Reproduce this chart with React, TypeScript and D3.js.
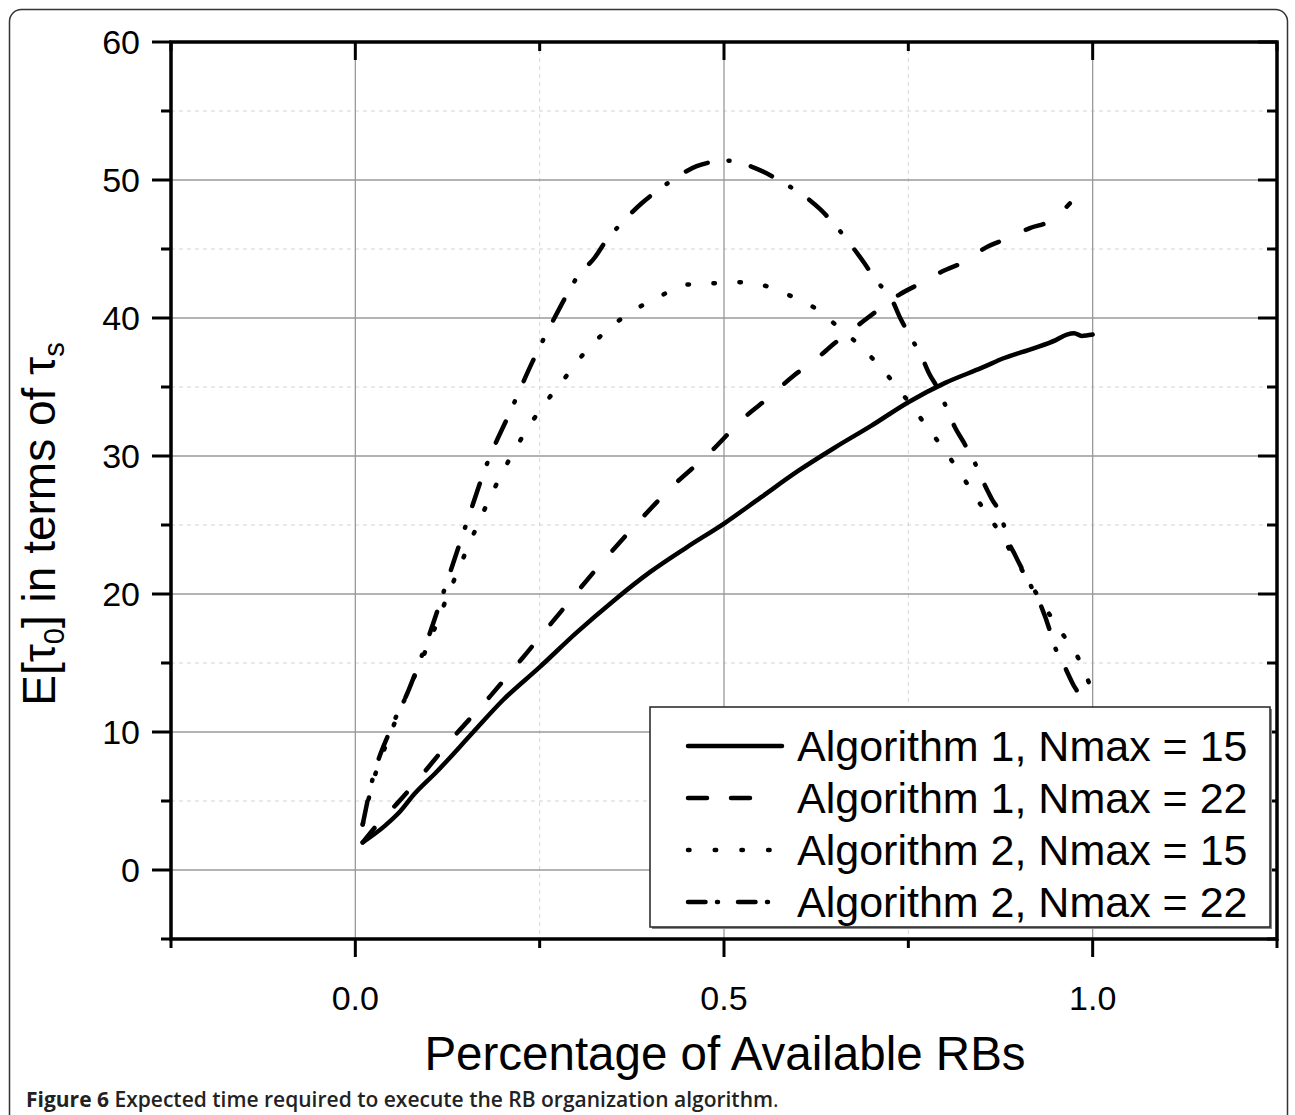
import * as d3 from "d3";

// x = fraction of available RBs, y = E[tau0] in units of tau_s
const alg1N15X = [0.01, 0.04, 0.06, 0.08, 0.11, 0.16, 0.2, 0.25, 0.3, 0.35, 0.4, 0.45, 0.5, 0.55, 0.6, 0.65, 0.7, 0.75, 0.8, 0.85, 0.88, 0.92, 0.95, 0.965, 0.975, 0.985, 1.0];
const alg1N15Y = [2.0, 3.2, 4.2, 5.5, 7.1, 10.0, 12.3, 14.7, 17.2, 19.5, 21.6, 23.4, 25.1, 27.0, 28.9, 30.6, 32.2, 33.9, 35.3, 36.4, 37.1, 37.8, 38.4, 38.8, 38.9, 38.7, 38.8];

const alg1N22X = [0.01, 0.03, 0.058, 0.081, 0.131, 0.183, 0.232, 0.28, 0.33, 0.38, 0.43, 0.48, 0.53, 0.56, 0.594, 0.622, 0.653, 0.68, 0.712, 0.738, 0.77, 0.797, 0.827, 0.855, 0.886, 0.914, 0.945, 0.969];
const alg1N22Y = [2.0, 3.3, 4.9, 6.3, 9.5, 12.6, 15.7, 18.8, 22.0, 25.0, 27.8, 30.2, 32.9, 34.2, 35.8, 36.9, 38.3, 39.4, 40.7, 41.7, 42.6, 43.4, 44.1, 45.1, 45.8, 46.5, 47.1, 48.3];

const alg2N15X = [0.01, 0.022, 0.047, 0.072, 0.1, 0.13, 0.16, 0.19, 0.22, 0.25, 0.282, 0.308, 0.341, 0.376, 0.411, 0.446, 0.481, 0.516, 0.551, 0.586, 0.621, 0.656, 0.69, 0.724, 0.777, 0.802, 0.826, 0.849, 0.872, 0.892, 0.915, 0.938, 0.958, 0.981, 0.997];
const alg2N15Y = [3.3, 6.0, 9.8, 13.0, 16.5, 20.5, 24.3, 27.8, 30.8, 33.3, 35.5, 37.3, 39.1, 40.5, 41.5, 42.4, 42.5, 42.6, 42.4, 41.7, 40.8, 39.3, 37.7, 35.7, 32.0, 30.2, 28.3, 26.4, 24.6, 22.8, 20.8, 18.8, 17.2, 15.3, 13.3];

const alg2N22X = [0.01, 0.022, 0.047, 0.072, 0.1, 0.125, 0.15, 0.179, 0.21, 0.24, 0.27, 0.287, 0.3, 0.325, 0.34, 0.358, 0.388, 0.409, 0.43, 0.463, 0.483, 0.504, 0.536, 0.557, 0.577, 0.61, 0.63, 0.651, 0.675, 0.69, 0.705, 0.728, 0.739, 0.75, 0.768, 0.778, 0.791, 0.804, 0.813, 0.825, 0.842, 0.851, 0.863, 0.877, 0.883, 0.895, 0.919, 0.931, 0.941, 0.947, 0.958, 0.973, 0.983, 0.99];
const alg2N22Y = [3.3, 6.3, 10.1, 13.0, 17.0, 21.0, 25.0, 29.5, 33.2, 36.8, 40.0, 41.7, 42.9, 44.4, 45.6, 46.7, 48.3, 49.2, 50.0, 51.0, 51.3, 51.4, 51.0, 50.5, 49.9, 48.8, 47.9, 46.7, 45.1, 44.0, 42.8, 41.3, 40.0, 38.9, 37.2, 36.0, 34.8, 33.2, 32.1, 31.0, 29.3, 28.2, 26.9, 25.5, 24.2, 22.8, 20.3, 19.0, 17.5, 16.4, 15.2, 13.5, 12.5, 11.3];

const seriesNames = [
  "Algorithm 1, Nmax = 15",
  "Algorithm 1, Nmax = 22",
  "Algorithm 2, Nmax = 15",
  "Algorithm 2, Nmax = 22",
];

const xMajorTicks = [0, 0.5, 1.0];
const xMinorTicks = [-0.25, 0.25, 0.75, 1.25];
const yMajorTicks = [0, 10, 20, 30, 40, 50, 60];
const yMinorTicks = [-5, 5, 15, 25, 35, 45, 55];

const W = 1295;
const H = 1115;
const L = 171, R = 1277, T = 42, B = 939;
const FONT = "Liberation Sans";

export default function App() {
  const x = d3.scaleLinear().domain([-0.25, 1.25]).range([L, R]);
  const y = d3.scaleLinear().domain([-5, 60]).range([B, T]);

  const line = d3
    .line<[number, number]>()
    .x((d) => x(d[0]))
    .y((d) => y(d[1]))
    .curve(d3.curveMonotoneX);

  const zip = (xs: number[], ys: number[]) => xs.map((v, i) => [v, ys[i]] as [number, number]);

  const series = [
    { pts: zip(alg1N15X, alg1N15Y), dash: "none", legDash: "none", legEnd: 782 },
    { pts: zip(alg1N22X, alg1N22Y), dash: "18.5 29.5", legDash: "19 24", legEnd: 752 },
    { pts: zip(alg2N15X, alg2N15Y), dash: "1.5 24.5", legDash: "1.5 25.2", legEnd: 782 },
    { pts: zip(alg2N22X, alg2N22Y), dash: "23.5 21 1 22", legDash: "17.5 11.5 1 20", legEnd: 782 },
  ];

  const legX = 650, legY = 707, legW = 620, legH = 220;
  const rowBase = [761, 813, 865, 917];

  return (
    <svg
      width={W}
      height={H}
      style={{ position: "absolute", left: 0, top: 0, background: "#fff", fontFamily: FONT }}
    >
      <rect x={9.5} y={9.5} width={1278} height={1130} rx={12} fill="#fff" stroke="#333" strokeWidth={1.5} />

      <defs>
        <clipPath id="plotClip">
          <rect x={L} y={T} width={R - L} height={B - T} />
        </clipPath>
      </defs>

      {/* grid */}
      {yMinorTicks.filter((t) => t > -5).map((t) => (
        <line key={"ym" + t} x1={L} x2={R} y1={y(t)} y2={y(t)} stroke="#d4d4d4" strokeWidth={1} strokeDasharray="4 4" />
      ))}
      {xMinorTicks.filter((t) => t > -0.25 && t < 1.25).map((t) => (
        <line key={"xm" + t} x1={x(t)} x2={x(t)} y1={T} y2={B} stroke="#d4d4d4" strokeWidth={1} strokeDasharray="4 4" />
      ))}
      {yMajorTicks.filter((t) => t < 60).map((t) => (
        <line key={"yg" + t} x1={L} x2={R} y1={y(t)} y2={y(t)} stroke="#9a9a9a" strokeWidth={1.3} />
      ))}
      {xMajorTicks.map((t) => (
        <line key={"xg" + t} x1={x(t)} x2={x(t)} y1={T} y2={B} stroke="#9a9a9a" strokeWidth={1.3} />
      ))}

      {/* data */}
      <g clipPath="url(#plotClip)">
        {series.map((s, i) => (
          <path
            key={i}
            d={line(s.pts) || ""}
            fill="none"
            stroke="#000"
            strokeWidth={4.5}
            strokeLinecap="round"
            strokeLinejoin="round"
            strokeDasharray={s.dash}
          />
        ))}
      </g>

      {/* frame */}
      <rect x={L} y={T} width={R - L} height={B - T} fill="none" stroke="#000" strokeWidth={3.5} />

      {/* ticks */}
      {yMajorTicks.map((t) => (
        <g key={"yt" + t}>
          <line x1={L - 19} x2={L} y1={y(t)} y2={y(t)} stroke="#000" strokeWidth={3} />
          <line x1={R - 19} x2={R} y1={y(t)} y2={y(t)} stroke="#000" strokeWidth={3} />
        </g>
      ))}
      {yMinorTicks.map((t) => (
        <g key={"ytm" + t}>
          <line x1={L - 10} x2={L} y1={y(t)} y2={y(t)} stroke="#000" strokeWidth={3} />
          <line x1={R - 10} x2={R} y1={y(t)} y2={y(t)} stroke="#000" strokeWidth={3} />
        </g>
      ))}
      {xMajorTicks.map((t) => (
        <g key={"xt" + t}>
          <line x1={x(t)} x2={x(t)} y1={B} y2={B + 18} stroke="#000" strokeWidth={3} />
          <line x1={x(t)} x2={x(t)} y1={T} y2={T + 18} stroke="#000" strokeWidth={3} />
        </g>
      ))}
      {xMinorTicks.map((t) => (
        <g key={"xtm" + t}>
          <line x1={x(t)} x2={x(t)} y1={B} y2={B + 9} stroke="#000" strokeWidth={3} />
          <line x1={x(t)} x2={x(t)} y1={T} y2={T + 9} stroke="#000" strokeWidth={3} />
        </g>
      ))}

      {/* tick labels */}
      {yMajorTicks.map((t) => (
        <text key={"yl" + t} x={140} y={y(t)} dy="0.35em" textAnchor="end" fontSize={34}>
          {t}
        </text>
      ))}
      {xMajorTicks.map((t) => (
        <text key={"xl" + t} x={x(t)} y={1010} textAnchor="middle" fontSize={34}>
          {d3.format(".1f")(t)}
        </text>
      ))}

      {/* axis titles */}
      <text x={725} y={1070} textAnchor="middle" fontSize={47.5}>
        Percentage of Available RBs
      </text>
      <text transform="translate(55,524) rotate(-90)" textAnchor="middle" fontSize={46}>
        E[τ<tspan fontSize={29} baselineShift="-9">0</tspan>] in terms of τ
        <tspan fontSize={29} baselineShift="-9">s</tspan>
      </text>

      {/* legend */}
      <rect x={legX + 2} y={legY + 2} width={legW} height={legH} fill="#888" />
      <rect x={legX} y={legY} width={legW} height={legH} fill="#fff" stroke="#222" strokeWidth={1.5} />
      {series.map((s, i) => (
        <g key={"lg" + i}>
          <line
            x1={688}
            x2={s.legEnd}
            y1={rowBase[i] - 15}
            y2={rowBase[i] - 15}
            stroke="#000"
            strokeWidth={4.5}
            strokeLinecap="round"
            strokeDasharray={s.legDash}
          />
          <text x={797} y={rowBase[i]} fontSize={43}>
            {seriesNames[i]}
          </text>
        </g>
      ))}

      {/* caption */}
      <text x={26} y={1107} fontSize={21} style={{ fontFamily: "Open Sans" }} fill="#222">
        <tspan fontWeight={700}>Figure 6</tspan>
        <tspan fontWeight={600}> Expected time required to execute the RB organization algorithm</tspan>
        <tspan fontWeight={400}>.</tspan>
      </text>
    </svg>
  );
}
